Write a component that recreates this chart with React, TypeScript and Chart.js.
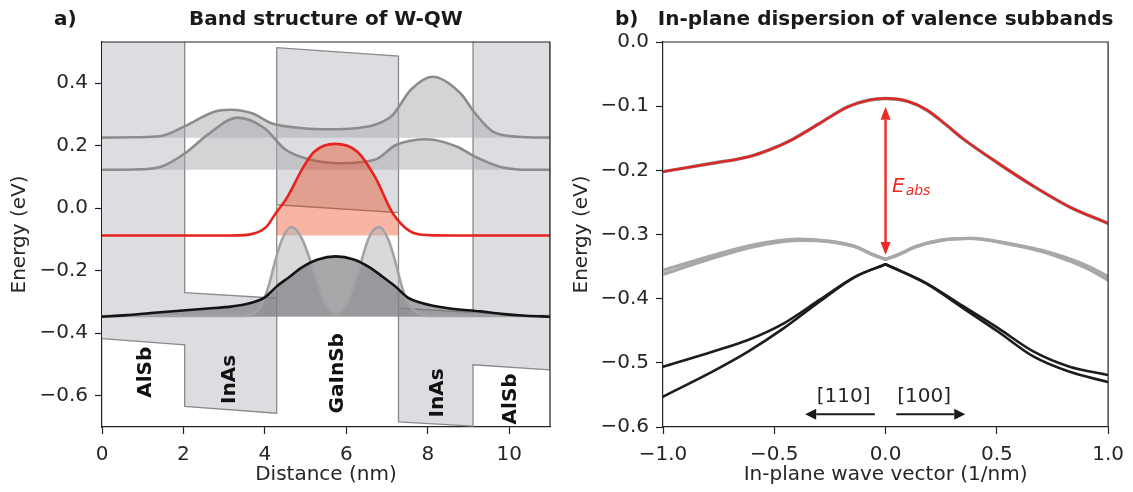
import React, { useEffect, useRef } from 'react';
import { Chart, registerables } from 'chart.js';

Chart.register(...registerables);

const FONT = "'DejaVu Sans', 'Liberation Sans', sans-serif";
const TXT = '#262626';
const AXC = '#222222';

// ---------------- Panel a: band structure ----------------
const A_X_RANGE = [0, 11];
const A_Y_RANGE = [-0.7, 0.532];
const A_X_TICKS = [0, 2, 4, 6, 8, 10];
const A_Y_TICKS = [-0.6, -0.4, -0.2, 0, 0.2, 0.4];

// layer interfaces (nm) and band edges (eV)
const BAND_X = [0, 2.03, 2.03, 4.29, 4.29, 7.28, 7.28, 9.11, 9.11, 11];
const CB_E = [0.75, 0.73, -0.27, -0.288, 0.514, 0.487, -0.32, -0.333, 0.65, 0.63];
const VB_E = [-0.417, -0.437, -0.634, -0.656, 0.011, -0.014, -0.684, -0.697, -0.501, -0.517];

// electron states
const E2_BASE = 0.226;
const E2_X = [0, 0.8, 1.45, 2.04, 2.76, 3.16, 3.7, 4.16, 4.95, 5.6, 6.2, 6.7, 7.14, 7.58, 8.12, 8.8, 9.16, 9.6, 10.2, 11];
const E2_E = [0.226, 0.227, 0.231, 0.263, 0.309, 0.315, 0.303, 0.272, 0.256, 0.253, 0.256, 0.267, 0.299, 0.379, 0.421, 0.368, 0.304, 0.245, 0.229, 0.226];

const E1_BASE = 0.123;
const E1_X = [0, 0.8, 1.45, 2.04, 2.59, 3.33, 3.99, 4.51, 5.13, 5.83, 6.7, 7.23, 7.98, 8.72, 9.16, 9.77, 10.47, 11];
const E1_E = [0.123, 0.124, 0.133, 0.176, 0.235, 0.29, 0.256, 0.187, 0.155, 0.144, 0.155, 0.203, 0.221, 0.197, 0.165, 0.133, 0.123, 0.123];

// first heavy-hole state (red)
const HH1_BASE = -0.087;
const HH1_FILL_RANGE = [4.29, 7.28];
const HH1_X = [0, 3.2, 3.7, 4.04, 4.29, 4.51, 4.95, 5.21, 5.72, 6.27, 6.7, 7.14, 7.58, 8.02, 8.6, 11];
const HH1_E = [-0.087, -0.087, -0.082, -0.059, -0.011, 0.027, 0.133, 0.181, 0.206, 0.181, 0.101, -0.016, -0.075, -0.086, -0.087, -0.087];

// light-hole state (two lobes, light grey)
const LH_BASE = -0.345;
const LH_X = [0, 3.45, 3.75, 3.95, 4.1, 4.25, 4.42, 4.65, 4.9, 5.2, 5.45, 5.75, 6.05, 6.3, 6.55, 6.8, 7.03, 7.2, 7.35, 7.5, 7.75, 8.05, 11];
const LH_E = [-0.345, -0.345, -0.336, -0.3, -0.245, -0.17, -0.1, -0.06, -0.095, -0.2, -0.295, -0.338, -0.295, -0.2, -0.095, -0.06, -0.1, -0.17, -0.245, -0.3, -0.336, -0.345, -0.345];

// second heavy-hole state (black)
const HH2_BASE = -0.347;
const HH2_X = [0, 0.6, 1.2, 1.9, 2.6, 3.2, 3.65, 4.0, 4.29, 4.6, 4.9, 5.3, 5.74, 6.18, 6.58, 6.9, 7.2, 7.5, 7.85, 8.5, 9.3, 9.8, 10.4, 11];
const HH2_E = [-0.347, -0.342, -0.335, -0.328, -0.321, -0.314, -0.303, -0.285, -0.25, -0.22, -0.19, -0.164, -0.154, -0.164, -0.19, -0.22, -0.25, -0.285, -0.303, -0.32, -0.33, -0.338, -0.344, -0.347];

const LAYER_NAMES = ['AlSb', 'InAs', 'GaInSb', 'InAs', 'AlSb'];
const LAYER_LABEL_X = [1.07, 3.15, 5.78, 8.24, 10.04];
const LAYER_LABEL_E = [-0.525, -0.548, -0.528, -0.591, -0.61];

// ---------------- Panel b: dispersion ----------------
const B_X_RANGE = [-1, 1];
const B_Y_RANGE = [-0.6, 0];
const B_X_TICKS = [-1, -0.5, 0, 0.5, 1];
const B_Y_TICKS = [-0.6, -0.5, -0.4, -0.3, -0.2, -0.1, 0];

const RED_K = [-1, -0.778, -0.618, -0.522, -0.425, -0.297, -0.169, -0.072, 0, 0.104, 0.185, 0.265, 0.345, 0.506, 0.666, 0.827, 1];
const RED_E = [-0.202, -0.189, -0.179, -0.168, -0.153, -0.127, -0.101, -0.0904, -0.088, -0.093, -0.106, -0.127, -0.15, -0.189, -0.225, -0.257, -0.2826];

const GREY1_K = [-1, -0.778, -0.618, -0.393, -0.25, -0.136, -0.06, 0, 0.06, 0.136, 0.25, 0.377, 0.586, 0.746, 0.907, 1];
const GREY1_E = [-0.356, -0.333, -0.318, -0.3075, -0.311, -0.319, -0.331, -0.3387, -0.331, -0.319, -0.309, -0.306, -0.3164, -0.329, -0.349, -0.366];
const GREY2_E = [-0.362, -0.337, -0.321, -0.309, -0.311, -0.319, -0.331, -0.3387, -0.331, -0.319, -0.309, -0.306, -0.317, -0.331, -0.353, -0.371];

const BLK_K = [-1, -0.778, -0.618, -0.457, -0.297, -0.136, 0, 0.185, 0.345, 0.506, 0.666, 0.827, 1];
const BLK_A_E = [-0.506, -0.4826, -0.4644, -0.4384, -0.402, -0.3657, -0.3464, -0.376, -0.411, -0.446, -0.4826, -0.506, -0.519];
const BLK_B_E = [-0.5527, -0.5138, -0.4826, -0.446, -0.4047, -0.366, -0.3464, -0.377, -0.414, -0.4515, -0.4904, -0.514, -0.53];

const EABS_K = 0;
const EABS_TOP = -0.1008;
const EABS_BOTTOM = -0.332;
const EABS_LABEL_K = 0.029;
const EABS_LABEL_E = -0.2333;

const DIR_LABELS = ['[110]', '[100]'];
const DIR_LABEL_K = [-0.188, 0.173];
const DIR_LABEL_E = -0.5527;
const DIR_ARROW_FROM = [-0.048, 0.048];
const DIR_ARROW_TO = [-0.361, 0.358];
const DIR_ARROW_E = -0.58;

// ---------------- helpers ----------------
const pts = (xs: number[], ys: number[]) => xs.map((x, i) => ({ x, y: ys[i] }));
const leftHalf = (xs: number[], ys: number[]) => pts(xs, ys).filter((p) => p.x <= 0);
const rightHalf = (xs: number[], ys: number[]) => pts(xs, ys).filter((p) => p.x >= 0);

function fmt(v: number, d: number) {
  const s = Math.abs(v).toFixed(d);
  return (v < -1e-9 ? '\u2212' : '') + s;
}

function makeScale(
  min: number,
  max: number,
  ticks: number[],
  dec: number,
  title: string,
  isX: boolean,
  size: number,
  titlePad: number
) {
  return {
    type: 'linear',
    min,
    max,
    afterBuildTicks: (s: any) => {
      s.ticks = ticks.map((v) => ({ value: v }));
    },
    afterFit: (s: any) => {
      if (isX) s.height = size;
      else s.width = size;
    },
    ticks: {
      callback: (v: any) => fmt(Number(v), dec),
      font: { family: FONT, size: 20 },
      color: TXT,
      padding: isX ? 9 : 7,
      autoSkip: false,
      maxRotation: 0,
      minRotation: 0,
    },
    grid: {
      display: true,
      drawOnChartArea: false,
      drawTicks: true,
      tickLength: 7,
      tickWidth: 1.2,
      color: AXC,
      tickColor: AXC,
    },
    border: { display: true, color: AXC, width: 1.2 },
    title: {
      display: true,
      text: title,
      font: { family: FONT, size: 20 },
      color: TXT,
      padding: isX ? { top: 0, bottom: 5 } : { top: titlePad, bottom: 0 },
    },
  };
}

function drawArrow(ctx: CanvasRenderingContext2D, x0: number, y0: number, x1: number, y1: number, color: string, lw: number, hl: number, hw: number) {
  const ang = Math.atan2(y1 - y0, x1 - x0);
  const bx = x1 - hl * Math.cos(ang);
  const by = y1 - hl * Math.sin(ang);
  ctx.save();
  ctx.strokeStyle = color;
  ctx.lineWidth = lw;
  ctx.beginPath();
  ctx.moveTo(x0, y0);
  ctx.lineTo(bx, by);
  ctx.stroke();
  ctx.fillStyle = color;
  ctx.beginPath();
  ctx.moveTo(x1, y1);
  ctx.lineTo(bx + hw * Math.sin(ang), by - hw * Math.cos(ang));
  ctx.lineTo(bx - hw * Math.sin(ang), by + hw * Math.cos(ang));
  ctx.closePath();
  ctx.fill();
  ctx.restore();
}

function drawFrameAndTitle(chart: any, tag: string, title: string) {
  const { ctx, chartArea: ca } = chart;
  ctx.save();
  ctx.strokeStyle = AXC;
  ctx.lineWidth = 1.2;
  ctx.beginPath();
  ctx.moveTo(ca.left, ca.top);
  ctx.lineTo(ca.right, ca.top);
  ctx.lineTo(ca.right, ca.bottom);
  ctx.stroke();
  ctx.fillStyle = '#1a1a1a';
  ctx.font = `bold 20px ${FONT}`;
  ctx.textBaseline = 'alphabetic';
  ctx.textAlign = 'left';
  ctx.fillText(tag, ca.left - 48, 25);
  ctx.textAlign = 'center';
  ctx.fillText(title, (ca.left + ca.right) / 2, 25);
  ctx.restore();
}

const RED_LINE = '#e8221e';
const RED_FILL = 'rgba(235,50,0,0.36)';
const HH1_INDEX = 3;

const panelAPlugin = {
  id: 'panelA',
  beforeDatasetDraw(chart: any, args: any) {
    if (args.index !== HH1_INDEX) return;
    const { ctx, chartArea: ca, scales } = chart;
    const line = args.meta.dataset;
    const data = args.meta.data;
    if (!line || !data.length) return;
    line.updateControlPoints(ca, 'x');
    const x1 = scales.x.getPixelForValue(HH1_FILL_RANGE[0]);
    const x2 = scales.x.getPixelForValue(HH1_FILL_RANGE[1]);
    const yb = scales.y.getPixelForValue(HH1_BASE);
    ctx.save();
    ctx.beginPath();
    ctx.rect(x1, ca.top, x2 - x1, yb - ca.top);
    ctx.clip();
    ctx.beginPath();
    line.path(ctx);
    ctx.lineTo(data[data.length - 1].x, ca.bottom);
    ctx.lineTo(data[0].x, ca.bottom);
    ctx.closePath();
    ctx.fillStyle = RED_FILL;
    ctx.fill();
    ctx.restore();
  },
  afterDatasetsDraw(chart: any) {
    const { ctx, scales } = chart;
    ctx.save();
    ctx.fillStyle = '#111111';
    ctx.font = `bold 20px ${FONT}`;
    ctx.textAlign = 'center';
    ctx.textBaseline = 'middle';
    LAYER_NAMES.forEach((name, i) => {
      const px = scales.x.getPixelForValue(LAYER_LABEL_X[i]);
      const py = scales.y.getPixelForValue(LAYER_LABEL_E[i]);
      ctx.save();
      ctx.translate(px, py);
      ctx.rotate(-Math.PI / 2);
      ctx.fillText(name, 0, 0);
      ctx.restore();
    });
    ctx.restore();
  },
  afterDraw(chart: any) {
    drawFrameAndTitle(chart, 'a)', 'Band structure of W-QW');
  },
};

const panelBPlugin = {
  id: 'panelB',
  afterDatasetsDraw(chart: any) {
    const { ctx, scales } = chart;
    const xs = scales.x;
    const ys = scales.y;
    // E_abs arrow
    const ax = xs.getPixelForValue(EABS_K);
    const yTop = ys.getPixelForValue(EABS_TOP);
    const yBot = ys.getPixelForValue(EABS_BOTTOM);
    const ym = (yTop + yBot) / 2;
    const ARC = '#ee2a24';
    drawArrow(ctx, ax, ym, ax, yTop, ARC, 2.4, 13, 5);
    drawArrow(ctx, ax, ym, ax, yBot, ARC, 2.4, 13, 5);
    ctx.save();
    ctx.fillStyle = ARC;
    ctx.textAlign = 'left';
    ctx.textBaseline = 'alphabetic';
    const lx = xs.getPixelForValue(EABS_LABEL_K);
    const ly = ys.getPixelForValue(EABS_LABEL_E);
    ctx.font = `italic 20px ${FONT}`;
    ctx.fillText('E', lx, ly);
    const w = ctx.measureText('E').width;
    ctx.font = `italic 14px ${FONT}`;
    ctx.fillText('abs', lx + w + 1, ly + 3);
    ctx.restore();
    // direction arrows
    const ay = ys.getPixelForValue(DIR_ARROW_E);
    DIR_LABELS.forEach((lab, i) => {
      drawArrow(ctx, xs.getPixelForValue(DIR_ARROW_FROM[i]), ay, xs.getPixelForValue(DIR_ARROW_TO[i]), ay, '#1a1a1a', 2, 11, 5.5);
      ctx.save();
      ctx.fillStyle = TXT;
      ctx.font = `20px ${FONT}`;
      ctx.textAlign = 'center';
      ctx.textBaseline = 'middle';
      ctx.fillText(lab, xs.getPixelForValue(DIR_LABEL_K[i]), ys.getPixelForValue(DIR_LABEL_E));
      ctx.restore();
    });
  },
  afterDraw(chart: any) {
    drawFrameAndTitle(chart, 'b)', 'In-plane dispersion of valence subbands');
  },
};

function lineDs(data: any[], color: string, width: number, order: number, extra: any = {}) {
  return {
    data,
    borderColor: color,
    borderWidth: width,
    backgroundColor: 'rgba(0,0,0,0)',
    fill: false,
    pointRadius: 0,
    pointHoverRadius: 0,
    cubicInterpolationMode: 'monotone',
    borderCapStyle: 'round',
    borderJoinStyle: 'round',
    order,
    ...extra,
  };
}

export default function App() {
  const refA = useRef<HTMLCanvasElement>(null);
  const refB = useRef<HTMLCanvasElement>(null);

  useEffect(() => {
    if (!refA.current || !refB.current) return;
    const band = pts(BAND_X, CB_E).concat(pts(BAND_X, VB_E).reverse());

    const chartA = new Chart(refA.current, {
      type: 'line',
      data: {
        datasets: [
          {
            data: band,
            borderColor: '#8a8a8a',
            borderWidth: 1.3,
            backgroundColor: '#dcdde0',
            fill: 'shape',
            tension: 0,
            pointRadius: 0,
            order: 20,
          } as any,
          lineDs(pts(E2_X, E2_E), '#8c8c8c', 2.6, 19, { fill: { value: E2_BASE }, backgroundColor: 'rgba(170,170,175,0.5)' }),
          lineDs(pts(E1_X, E1_E), '#8c8c8c', 2.6, 18, { fill: { value: E1_BASE }, backgroundColor: 'rgba(170,170,175,0.5)' }),
          lineDs(pts(HH1_X, HH1_E), RED_LINE, 2.6, 17),
          lineDs(pts(LH_X, LH_E), 'rgba(0,0,0,0)', 0, 16, { fill: { value: LH_BASE }, backgroundColor: 'rgba(180,180,185,0.5)' }),
          lineDs(pts(HH2_X, HH2_E), 'rgba(0,0,0,0)', 0, 15, { fill: { value: HH2_BASE }, backgroundColor: 'rgba(110,110,115,0.6)' }),
          lineDs(pts(LH_X, LH_E), '#a3a3a6', 2.6, 14),
          lineDs(pts(HH2_X, HH2_E), '#141414', 2.6, 13),
        ] as any,
      },
      options: {
        animation: false,
        responsive: false,
        devicePixelRatio: 1,
        events: [],
        layout: { padding: { left: 0, right: 16, top: 42, bottom: 0 } },
        plugins: { legend: { display: false }, tooltip: { enabled: false }, title: { display: false } },
        scales: {
          x: makeScale(A_X_RANGE[0], A_X_RANGE[1], A_X_TICKS, 0, 'Distance (nm)', true, 65, 0) as any,
          y: makeScale(A_Y_RANGE[0], A_Y_RANGE[1], A_Y_TICKS, 1, 'Energy (eV)', false, 102, 8) as any,
        },
      },
      plugins: [panelAPlugin],
    });

    const chartB = new Chart(refB.current, {
      type: 'line',
      data: {
        datasets: [
          lineDs(leftHalf(BLK_K, BLK_A_E), '#1c1c1c', 2.6, 30),
          lineDs(rightHalf(BLK_K, BLK_A_E), '#1c1c1c', 2.6, 29),
          lineDs(leftHalf(BLK_K, BLK_B_E), '#1c1c1c', 2.6, 28),
          lineDs(rightHalf(BLK_K, BLK_B_E), '#1c1c1c', 2.6, 27),
          lineDs(leftHalf(GREY1_K, GREY2_E), '#a8a8a8', 3.4, 26),
          lineDs(rightHalf(GREY1_K, GREY2_E), '#a8a8a8', 3.4, 25),
          lineDs(leftHalf(GREY1_K, GREY1_E), '#a8a8a8', 3.4, 24),
          lineDs(rightHalf(GREY1_K, GREY1_E), '#a8a8a8', 3.4, 23),
          lineDs(pts(RED_K, RED_E), '#8a7a7a', 3.4, 22),
          lineDs(pts(RED_K, RED_E), '#e4231f', 2.2, 21),
        ] as any,
      },
      options: {
        animation: false,
        responsive: false,
        devicePixelRatio: 1,
        events: [],
        layout: { padding: { left: 0, right: 21, top: 42, bottom: 0 } },
        plugins: { legend: { display: false }, tooltip: { enabled: false }, title: { display: false } },
        scales: {
          x: makeScale(B_X_RANGE[0], B_X_RANGE[1], B_X_TICKS, 1, 'In-plane wave vector (1/nm)', true, 65, 0) as any,
          y: makeScale(B_Y_RANGE[0], B_Y_RANGE[1], B_Y_TICKS, 1, 'Energy (eV)', false, 97, 4) as any,
        },
      },
      plugins: [panelBPlugin],
    });

    return () => {
      chartA.destroy();
      chartB.destroy();
    };
  }, []);

  return (
    <div style={{ position: 'fixed', left: 0, top: 0, width: 1133, height: 492, background: '#ffffff', overflow: 'hidden' }}>
      <canvas ref={refA} width={566} height={492} style={{ position: 'absolute', left: 0, top: 0, width: 566, height: 492 }} />
      <canvas ref={refB} width={567} height={492} style={{ position: 'absolute', left: 566, top: 0, width: 567, height: 492 }} />
    </div>
  );
}
